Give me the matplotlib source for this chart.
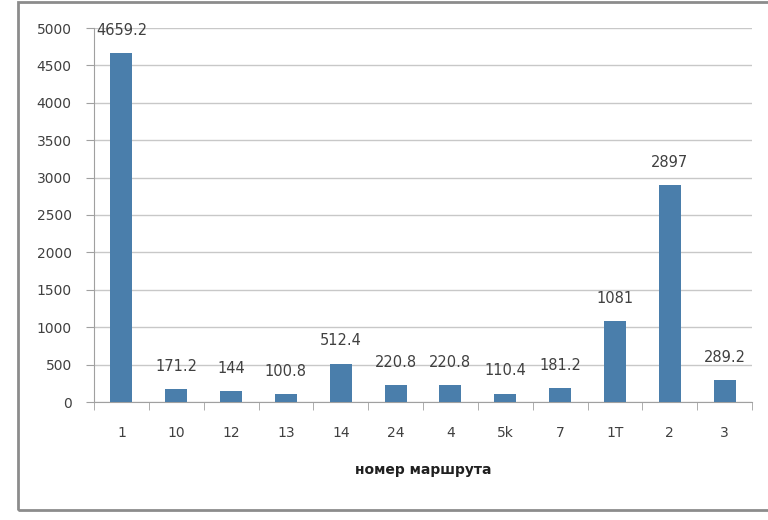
import matplotlib
matplotlib.use("Agg")
import matplotlib.pyplot as plt
from matplotlib.patches import Rectangle

routes = ["1", "10", "12", "13", "14", "24", "4", "5k", "7", "1T", "2", "3"]
values = [4659.2, 171.2, 144, 100.8, 512.4, 220.8, 220.8, 110.4, 181.2, 1081, 2897, 289.2]
value_labels = ["4659.2", "171.2", "144", "100.8", "512.4", "220.8", "220.8",
                "110.4", "181.2", "1081", "2897", "289.2"]

BAR = "#4a7eab"
GRID = "#c8c8c8"
AXIS = "#a0a0a0"
TXT = "#404040"

fig = plt.figure(figsize=(7.68, 5.2), dpi=100)
# chart frame, open on the right like the cropped screenshot
fig.patches.append(Rectangle((18 / 768, 10 / 520), 1.2, 508 / 520, transform=fig.transFigure,
                             fill=False, ec="#8c8c8c", lw=2.0))
ax = fig.add_axes([94 / 768, 1 - 402 / 520, (752 - 94) / 768, (402 - 28) / 520])

x = range(len(routes))
ax.bar(x, values, width=0.4, color=BAR, zorder=3)
for i, (v, lab) in enumerate(zip(values, value_labels)):
    ax.annotate(lab, (i, v), xytext=(0, 11), textcoords="offset points",
                ha="center", va="bottom", fontsize=10.5, color=TXT, zorder=4)

ax.set_ylim(0, 5000)
ax.set_xlim(-0.5, len(routes) - 0.5)
ax.set_yticks(range(0, 5001, 500))
ax.set_xticks(list(x))
ax.set_xticklabels(routes)
ax.set_xticks([i - 0.5 for i in range(len(routes) + 1)], minor=True)
ax.tick_params(axis="x", which="major", length=0, pad=17, labelsize=10, colors=TXT)
ax.tick_params(axis="x", which="minor", length=6, color=AXIS)
ax.tick_params(axis="y", length=6, color=AXIS, labelsize=10, colors=TXT, pad=10)
ax.grid(axis="y", color=GRID, lw=1.0, zorder=0)
for s in ("top", "right"):
    ax.spines[s].set_visible(False)
ax.spines["left"].set_color(AXIS)
ax.spines["bottom"].set_color(AXIS)
ax.set_xlabel("номер маршрута", fontsize=10, fontweight="bold", color="#202020", labelpad=17)

fig.savefig("out.png", dpi=100)
